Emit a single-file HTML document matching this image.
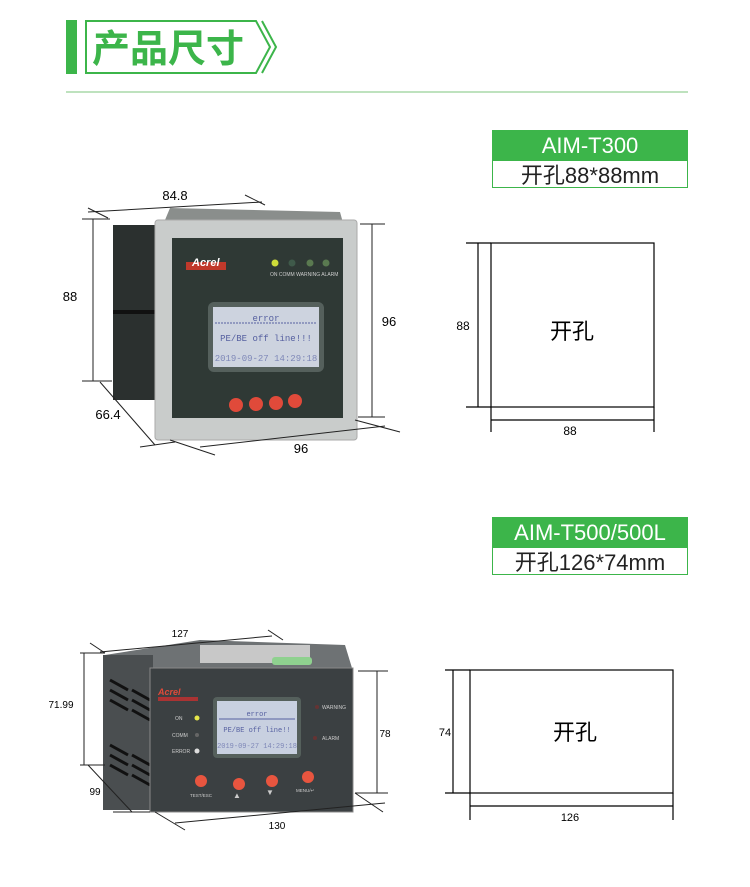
<!DOCTYPE html>
<html><head><meta charset="utf-8"><style>
body{margin:0;background:#fff;width:750px;height:882px;overflow:hidden;font-family:"Liberation Sans","Noto Sans CJK SC",sans-serif}
</style></head><body>
<svg width="750" height="882" viewBox="0 0 750 882" xmlns="http://www.w3.org/2000/svg" font-family="Liberation Sans, Noto Sans CJK SC, sans-serif">
<!-- header -->
<rect x="66" y="20" width="11" height="54" fill="#3cb54a"/>
<polygon points="86,21 256,21 270,47 256,73 86,73" fill="none" stroke="#3cb54a" stroke-width="2"/>
<polyline points="262,21 276,47 262,73" fill="none" stroke="#3cb54a" stroke-width="2"/>
<text x="92" y="62" font-size="38" font-weight="bold" fill="#3cb54a" font-family="Noto Sans CJK SC, sans-serif">产品尺寸</text>
<line x1="66" y1="92" x2="688" y2="92" stroke="#a8d8a8" stroke-width="1.5"/>

<!-- label 1 -->
<rect x="492" y="130" width="196" height="30" fill="#3cb54a"/>
<text x="590" y="153" font-size="22" fill="#fff" text-anchor="middle">AIM-T300</text>
<rect x="492.5" y="160.5" width="195" height="27" fill="#fff" stroke="#3cb54a"/>
<text x="590" y="183" font-size="22" fill="#222" text-anchor="middle">开孔88*88mm</text>

<!-- cutout 1 -->
<g stroke="#000" stroke-width="1.2" fill="none">
<rect x="491" y="243" width="163" height="164"/>
<line x1="478" y1="243" x2="478" y2="407"/>
<line x1="466" y1="243" x2="491" y2="243"/>
<line x1="466" y1="407" x2="491" y2="407"/>
<line x1="491" y1="420" x2="654" y2="420"/>
<line x1="491" y1="407" x2="491" y2="432"/>
<line x1="654" y1="407" x2="654" y2="432"/>
</g>
<text x="463" y="330" font-size="12" text-anchor="middle">88</text>
<text x="570" y="435" font-size="12" text-anchor="middle">88</text>
<text x="572" y="339" font-size="22" text-anchor="middle">开孔</text>

<!-- label 2 -->
<rect x="492" y="517" width="196" height="30" fill="#3cb54a"/>
<text x="590" y="540" font-size="22" fill="#fff" text-anchor="middle">AIM-T500/500L</text>
<rect x="492.5" y="547.5" width="195" height="27" fill="#fff" stroke="#3cb54a"/>
<text x="590" y="570" font-size="22" fill="#222" text-anchor="middle">开孔126*74mm</text>

<!-- cutout 2 -->
<g stroke="#000" stroke-width="1.2" fill="none">
<rect x="470" y="670" width="203" height="123"/>
<line x1="453" y1="670" x2="453" y2="793"/>
<line x1="445" y1="670" x2="470" y2="670"/>
<line x1="445" y1="793" x2="470" y2="793"/>
<line x1="470" y1="806" x2="673" y2="806"/>
<line x1="470" y1="793" x2="470" y2="820"/>
<line x1="673" y1="793" x2="673" y2="820"/>
</g>
<text x="445" y="736" font-size="11" text-anchor="middle">74</text>
<text x="570" y="821" font-size="11" text-anchor="middle">126</text>
<text x="575" y="740" font-size="22" text-anchor="middle">开孔</text>

<!-- device 1 -->
<polygon points="170,208 340,212 345,230 160,232" fill="#8a8e8c"/>
<rect x="113" y="225" width="50" height="175" fill="#2b302f"/>
<rect x="113" y="310" width="50" height="4" fill="#111"/>
<rect x="155" y="220" width="202" height="220" rx="3" fill="#c9cccb" stroke="#aaa"/>
<rect x="172" y="238" width="171" height="180" fill="#2f3935"/>
<rect x="186" y="262" width="40" height="8" fill="#c0392b"/>
<text x="192" y="266" font-size="11" font-weight="bold" font-style="italic" fill="#fff">Acrel</text>
<circle cx="275" cy="263" r="3.5" fill="#cddc39"/><circle cx="292" cy="263" r="3.5" fill="#3f5a4a"/><circle cx="310" cy="263" r="3.5" fill="#5a7a50"/><circle cx="326" cy="263" r="3.5" fill="#5a7a50"/>
<text x="270" y="276" font-size="5" fill="#ccc">ON  COMM WARNING ALARM</text>
<rect x="208" y="302" width="116" height="70" rx="6" fill="#55605c"/>
<rect x="213" y="307" width="106" height="60" fill="#cdd3df"/>
<text x="266" y="321" font-size="9" fill="#5660a0" text-anchor="middle" font-family="Liberation Mono, monospace">error</text>
<line x1="215" y1="323" x2="317" y2="323" stroke="#5660a0" stroke-dasharray="2,1"/>
<text x="266" y="341" font-size="9" fill="#5660a0" text-anchor="middle" font-family="Liberation Mono, monospace">PE/BE off line!!!</text>
<text x="266" y="361" font-size="9" fill="#7f88b8" text-anchor="middle" font-family="Liberation Mono, monospace">2019-09-27  14:29:18</text>
<circle cx="236" cy="405" r="7" fill="#e04a3a"/><circle cx="256" cy="404" r="7" fill="#e04a3a"/><circle cx="276" cy="403" r="7" fill="#e04a3a"/><circle cx="295" cy="401" r="7" fill="#e04a3a"/>
<!-- dims 1 -->
<g stroke="#222" stroke-width="1" fill="none">
<line x1="88" y1="212" x2="262" y2="202"/>
<line x1="88" y1="208" x2="108" y2="218"/><line x1="245" y1="195" x2="265" y2="205"/>
<line x1="93" y1="219" x2="93" y2="381"/>
<line x1="82" y1="219" x2="110" y2="219"/><line x1="82" y1="381" x2="112" y2="381"/>
<line x1="372" y1="224" x2="372" y2="417"/>
<line x1="360" y1="224" x2="385" y2="224"/><line x1="358" y1="417" x2="385" y2="417"/>
<line x1="100" y1="382" x2="155" y2="445"/>
<line x1="140" y1="447" x2="175" y2="442"/>
<line x1="200" y1="447" x2="385" y2="426"/>
<line x1="170" y1="440" x2="215" y2="455"/><line x1="355" y1="420" x2="400" y2="432"/>
</g>
<text x="175" y="200" font-size="13" text-anchor="middle">84.8</text>
<text x="70" y="301" font-size="13" text-anchor="middle">88</text>
<text x="389" y="326" font-size="13" text-anchor="middle">96</text>
<text x="108" y="419" font-size="13" text-anchor="middle">66.4</text>
<text x="301" y="453" font-size="13" text-anchor="middle">96</text>

<!-- device 2 -->
<polygon points="105,655 200,640 345,645 352,668 150,672" fill="#6e7274"/>
<rect x="200" y="645" width="110" height="18" fill="#c8c8c8"/>
<rect x="272" y="657" width="40" height="8" rx="3" fill="#8fd18f"/>
<rect x="103" y="655" width="50" height="155" fill="#4a4e50"/>
<g stroke="#111" stroke-width="3">
<line x1="110" y1="680" x2="128" y2="690"/><line x1="132" y1="690" x2="150" y2="700"/>
<line x1="110" y1="690" x2="128" y2="700"/><line x1="132" y1="700" x2="150" y2="710"/>
<line x1="110" y1="700" x2="128" y2="710"/><line x1="132" y1="710" x2="150" y2="720"/>
<line x1="110" y1="745" x2="128" y2="755"/><line x1="132" y1="755" x2="150" y2="765"/>
<line x1="110" y1="755" x2="128" y2="765"/><line x1="132" y1="765" x2="150" y2="775"/>
<line x1="110" y1="765" x2="128" y2="775"/><line x1="132" y1="775" x2="150" y2="785"/>
</g>
<rect x="150" y="668" width="203" height="144" fill="#3b4042" stroke="#888"/>
<text x="158" y="695" font-size="9" font-weight="bold" font-style="italic" fill="#e04a3a">Acrel</text>
<rect x="158" y="697" width="40" height="4" fill="#a33"/>
<text x="175" y="720" font-size="5" fill="#ccc">ON</text><circle cx="197" cy="718" r="2.5" fill="#e6e64a"/>
<text x="172" y="737" font-size="5" fill="#ccc">COMM</text><circle cx="197" cy="735" r="2" fill="#666"/>
<text x="172" y="753" font-size="5" fill="#ccc">ERROR</text><circle cx="197" cy="751" r="2.5" fill="#ddd"/>
<rect x="213" y="697" width="88" height="61" rx="4" fill="#55605c"/>
<rect x="217" y="701" width="80" height="53" fill="#c8d0e0"/>
<text x="257" y="716" font-size="7" fill="#5660a0" text-anchor="middle" font-family="Liberation Mono, monospace">error</text>
<line x1="219" y1="719" x2="295" y2="719" stroke="#5660a0"/>
<text x="257" y="732" font-size="7" fill="#5660a0" text-anchor="middle" font-family="Liberation Mono, monospace">PE/BE off line!!</text>
<text x="257" y="748" font-size="7" fill="#7f88b8" text-anchor="middle" font-family="Liberation Mono, monospace">2019-09-27 14:29:18</text>
<circle cx="317" cy="707" r="2" fill="#633"/><text x="322" y="709" font-size="5" fill="#ccc">WARNING</text>
<circle cx="315" cy="738" r="2" fill="#633"/><text x="322" y="740" font-size="5" fill="#ccc">ALARM</text>
<circle cx="201" cy="781" r="6" fill="#e8553f"/><circle cx="239" cy="784" r="6" fill="#e8553f"/><circle cx="272" cy="781" r="6" fill="#e8553f"/><circle cx="308" cy="777" r="6" fill="#e8553f"/>
<text x="190" y="797" font-size="4.5" fill="#ccc">TEST/ESC</text>
<text x="233" y="798" font-size="8" fill="#ccc">▲</text><text x="266" y="795" font-size="8" fill="#ccc">▼</text>
<text x="296" y="792" font-size="4.5" fill="#ccc">MENU/↵</text>
<!-- dims 2 -->
<g stroke="#222" stroke-width="1" fill="none">
<line x1="100" y1="652" x2="272" y2="636"/>
<line x1="90" y1="643" x2="105" y2="653"/><line x1="268" y1="630" x2="283" y2="640"/>
<line x1="84" y1="653" x2="84" y2="765"/>
<line x1="80" y1="653" x2="105" y2="653"/><line x1="80" y1="765" x2="105" y2="765"/>
<line x1="377" y1="671" x2="377" y2="793"/>
<line x1="358" y1="671" x2="388" y2="671"/><line x1="355" y1="793" x2="388" y2="793"/>
<line x1="88" y1="765" x2="132" y2="812"/>
<line x1="113" y1="812" x2="150" y2="812"/>
<line x1="175" y1="823" x2="385" y2="803"/>
<line x1="155" y1="812" x2="185" y2="830"/><line x1="355" y1="793" x2="383" y2="812"/>
</g>
<text x="180" y="637" font-size="10" text-anchor="middle">127</text>
<text x="61" y="708" font-size="10" text-anchor="middle">71.99</text>
<text x="385" y="737" font-size="10" text-anchor="middle">78</text>
<text x="95" y="795" font-size="10" text-anchor="middle">99</text>
<text x="277" y="829" font-size="10" text-anchor="middle">130</text>
</svg>
</body></html>
